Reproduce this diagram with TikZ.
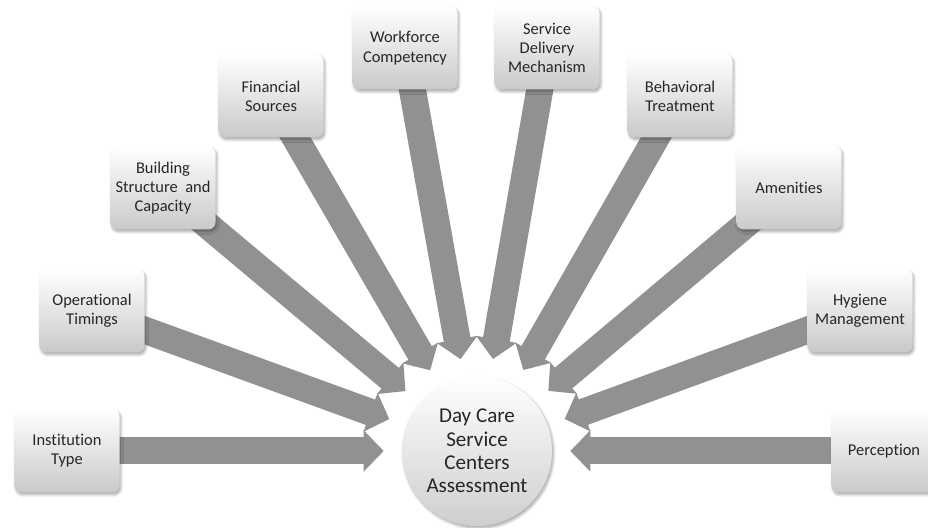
\documentclass[tikz,border=0pt]{standalone}
\usepackage{fontspec}
\setmainfont{Carlito}[Ligatures=NoCommon]
\usepackage{tikz, tkz-euclide}
\usetikzlibrary{arrows.meta, backgrounds, shadows.blur}

\tikzset{
  factor/.style={rectangle, rounded corners=5pt, minimum width=2.625cm, minimum height=2.075cm,
    inner sep=2pt, align=center, top color=white, bottom color=gray!42, text=black!85,
    blur shadow={shadow xshift=1pt, shadow yshift=-1.5pt, shadow blur steps=6, shadow opacity=35},
    font=\fontsize{11.7}{13.7}\selectfont},
  hub/.style={circle, minimum size=3.75cm, inner sep=0pt, align=center,
    top color=white, bottom color=gray!38, text=black!85,
    blur shadow={shadow xshift=1pt, shadow yshift=-1.5pt, shadow blur steps=6, shadow opacity=35},
    font=\fontsize{15}{16.6}\selectfont},
  spoke/.style={line width=0.675cm, draw=black!43, -{Triangle[length=0.5cm, width=1.0cm]},
    shorten >=0.45cm}
}

\begin{document}
\begin{tikzpicture}
	\useasboundingbox (0,0) rectangle (23.2,13.2);
	\tkzDefPoints{11.925/1.925/O, 1.675/1.925/A, 2.3/5.425/B, 4.075/8.5/C, 6.775/10.8/D, 10.125/12/E,
		13.675/12/F, 17/10.8/G, 19.725/8.5/H, 21.5/5.425/I, 22.1/1.925/J}
	
	\node[hub] (hub) at (O) {Day Care\\ Service\\ Centers\\ Assessment};
	
	\node[factor] (inst) at (A) {Institution\\ Type};
	\node[factor] (oper) at (B) {Operational\\ Timings};
	\node[factor] (build) at (C) {Building\\ Structure~ and\\ Capacity};
	\node[factor] (fin) at (D) {Financial\\ Sources};
	\node[factor] (work) at (E) {Workforce\\ Competency};
	\node[factor] (serv) at (F) {Service\\ Delivery\\ Mechanism};
	\node[factor] (behav) at (G) {Behavioral\\ Treatment};
	\node[factor] (amen) at (H) {Amenities};
	\node[factor] (hyg) at (I) {Hygiene\\ Management};
	\node[factor] (perc) at (J) {Perception};
	
	\begin{scope}[on background layer]
		\foreach \f in {inst, oper, build, fin, work, serv, behav, amen, hyg, perc}
			\draw[spoke] (\f.center) -- (hub);
	\end{scope}
\end{tikzpicture}
\end{document}
